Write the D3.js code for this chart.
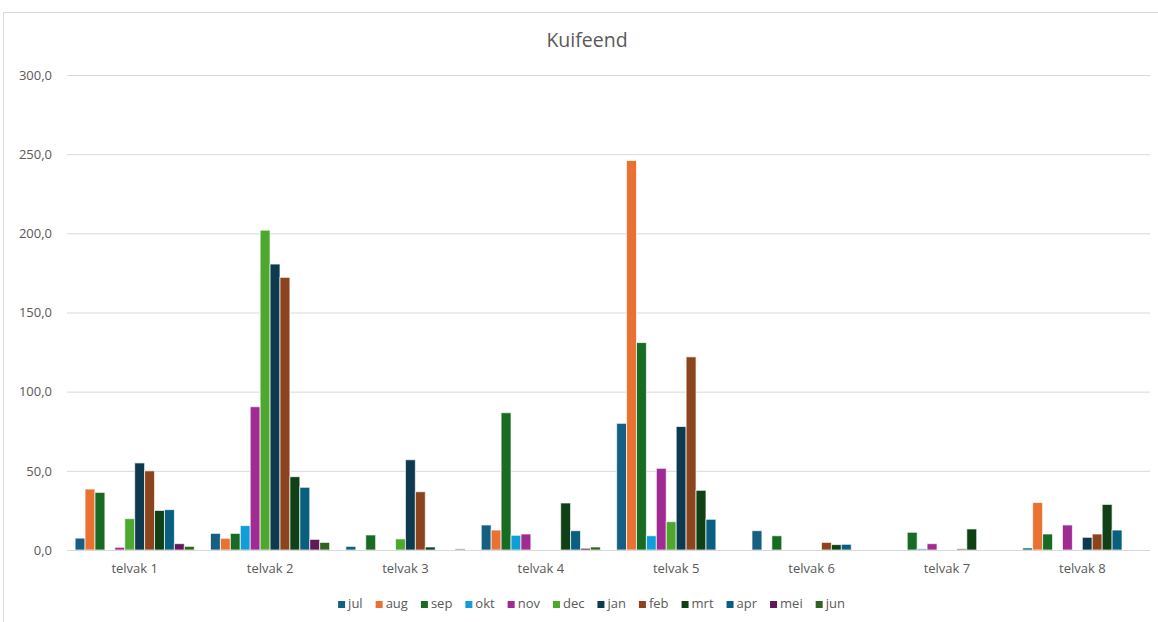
<!DOCTYPE html>
<html>
<head>
<meta charset="utf-8">
<script src="https://cdn.jsdelivr.net/npm/d3@7"></script>
<style>
  html, body { margin: 0; padding: 0; background: #fff; }
  svg { display: block; font-family: "Open Sans", "Noto Sans", sans-serif; }
</style>
</head>
<body>
<svg id="chart" width="1158" height="622"></svg>
<script>
const title = "Kuifeend";
const categories = ["telvak 1", "telvak 2", "telvak 3", "telvak 4", "telvak 5", "telvak 6", "telvak 7", "telvak 8"];
const months = ["jul", "aug", "sep", "okt", "nov", "dec", "jan", "feb", "mrt", "apr", "mei", "jun"];
const yTicks = [0, 50, 100, 150, 200, 250, 300];

const jul = [7.5, 10.5, 2.3, 15.8, 80, 12.2, 0, 1.3];
const aug = [38.5, 7.4, 0, 12.6, 246, 0, 0, 30];
const sep = [36.4, 10.5, 9.5, 86.7, 131, 9, 11.2, 10.1];
const okt = [0, 15.4, 0, 9.3, 9, 0, 0.8, 0];
const nov = [1.7, 90.5, 0, 10.1, 51.6, 0, 4, 15.8];
const dec = [19.8, 202, 7, 0, 17.9, 0, 0, 0];
const jan = [55, 180.6, 57, 0, 78, 0, 0, 8];
const feb = [50, 172.2, 36.8, 0, 122, 4.8, 0.8, 10.1];
const mrt = [25, 46.3, 1.9, 29.7, 37.7, 3.4, 13.3, 28.8];
const apr = [25.5, 39.6, 0, 12.2, 19.4, 3.6, 0, 12.6];
const mei = [4, 6.7, 0, 1.1, 0, 0, 0, 0];
const jun = [2.3, 4.8, 0.7, 1.9, 0, 0, 0, 0];

const colors = ["#156082", "#E97132", "#196B24", "#0F9ED5", "#A02B93", "#4EA72E",
                "#0D3A4E", "#8C441E", "#0F4016", "#095F80", "#601A58", "#2F641C"];

const seriesValues = [jul, aug, sep, okt, nov, dec, jan, feb, mrt, apr, mei, jun];

const svg = d3.select("#chart");
const W = 1158, H = 622;
const plot = { left: 67, right: 1150, top: 75, bottom: 550 };

// chart border
svg.append("rect")
  .attr("x", 3.5).attr("y", 12.5)
  .attr("width", W + 10).attr("height", H + 10)
  .attr("fill", "#fff").attr("stroke", "#d9d9d9").attr("stroke-width", 1);

// title
svg.append("text")
  .attr("x", 587).attr("y", 47)
  .attr("text-anchor", "middle")
  .attr("font-size", 19.5)
  .attr("fill", "#595959")
  .text(title);

const y = d3.scaleLinear().domain([0, 300]).range([plot.bottom, plot.top]);
const x0 = d3.scaleBand().domain(categories).range([plot.left, plot.right]).paddingInner(0).paddingOuter(0);
const gap = x0.bandwidth() * 0.06;
const x1 = d3.scaleBand().domain(months).range([gap, x0.bandwidth() - gap]).padding(0);

// gridlines
const yAxis = d3.axisLeft(y).tickValues(yTicks)
  .tickSize(-(plot.right - plot.left))
  .tickFormat(d => d3.format(".1f")(d).replace(".", ","));
const gy = svg.append("g").attr("transform", `translate(${plot.left},0)`).call(yAxis);
gy.select(".domain").remove();
gy.selectAll(".tick line").attr("stroke", "#d9d9d9").attr("stroke-width", 1);
gy.selectAll(".tick text")
  .attr("x", -15)
  .attr("font-size", 13)
  .attr("fill", "#595959")
  .attr("font-family", "'Open Sans', 'Noto Sans', sans-serif");

// bars
const groups = svg.append("g").selectAll("g")
  .data(categories)
  .join("g")
  .attr("transform", d => `translate(${x0(d)},0)`);

groups.selectAll("rect")
  .data((c, ci) => months.map((m, mi) => ({ m, mi, v: seriesValues[mi][ci] })))
  .join("rect")
  .filter(d => d.v > 0)
  .attr("x", d => x1(d.m))
  .attr("y", d => y(d.v))
  .attr("width", x1.bandwidth())
  .attr("height", d => y(0) - y(d.v))
  .attr("fill", d => colors[d.mi])
  .attr("stroke", "#ffffff")
  .attr("stroke-opacity", 0.7)
  .attr("stroke-width", 1);

// baseline
svg.append("line")
  .attr("x1", plot.left).attr("x2", plot.right)
  .attr("y1", y(0) + 0.5).attr("y2", y(0) + 0.5)
  .attr("stroke", "#d9d9d9").attr("stroke-width", 1);

// category labels
const xAxis = d3.axisBottom(x0).tickSize(0).tickPadding(14);
const gx = svg.append("g").attr("transform", `translate(0,${plot.bottom})`).call(xAxis);
gx.select(".domain").remove();
gx.selectAll(".tick text")
  .attr("font-size", 13)
  .attr("fill", "#595959")
  .attr("font-family", "'Open Sans', 'Noto Sans', sans-serif");

// legend
const legend = svg.append("g");
const items = legend.selectAll("g").data(months).join("g");
items.append("rect").attr("width", 7).attr("height", 7).attr("y", -7)
  .attr("fill", (d, i) => colors[i]);
items.append("text").attr("x", 10).attr("y", 0)
  .attr("font-size", 13).attr("fill", "#595959")
  .text(d => d);
let cx = 0;
items.each(function () {
  const g = d3.select(this);
  g.attr("transform", `translate(${cx},0)`);
  const tw = g.select("text").node().getComputedTextLength();
  cx += 10 + tw + 13;
});
const totalW = cx - 13;
legend.attr("transform", `translate(${591.5 - totalW / 2},608)`);
</script>
</body>
</html>
